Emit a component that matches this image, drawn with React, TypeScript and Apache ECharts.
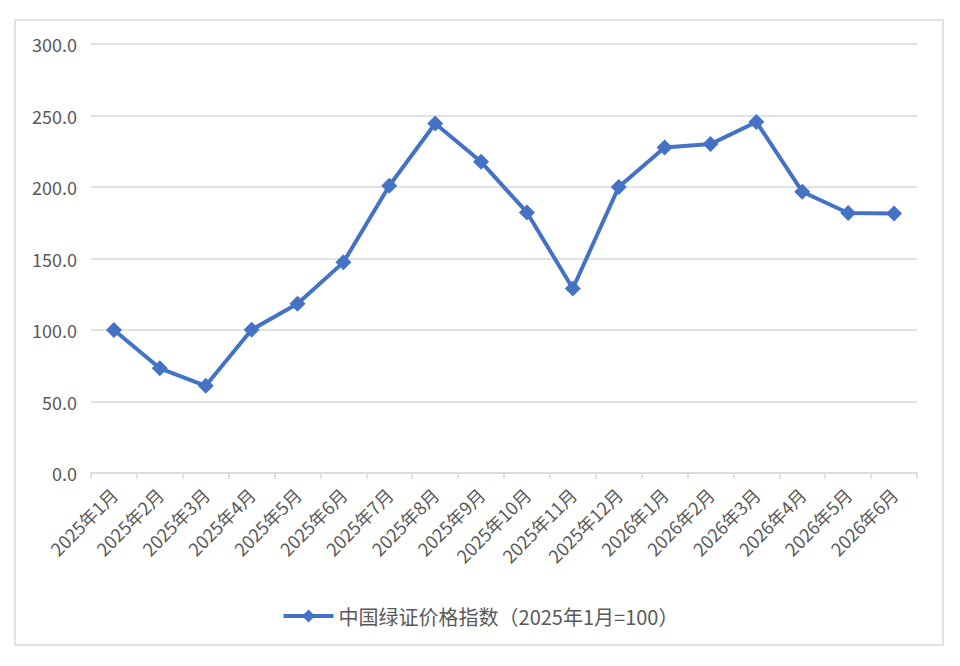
import React, { useEffect, useRef } from "react";
import * as echarts from "echarts";

const categories = [
  "2025年1月", "2025年2月", "2025年3月", "2025年4月", "2025年5月", "2025年6月",
  "2025年7月", "2025年8月", "2025年9月", "2025年10月", "2025年11月", "2025年12月",
  "2026年1月", "2026年2月", "2026年3月", "2026年4月", "2026年5月", "2026年6月",
];
const seriesName = "中国绿证价格指数（2025年1月=100）";
const indexValues = [
  100.0, 73.2, 61.0, 100.2, 118.3, 147.3,
  200.9, 244.4, 217.6, 182.2, 129.0, 200.0,
  227.6, 230.0, 245.5, 196.7, 181.8, 181.5,
];

const FONT = "'Noto Sans CJK SC', 'Noto Sans', sans-serif";

export default function App() {
  const ref = useRef<HTMLDivElement>(null);
  useEffect(() => {
    if (!ref.current) return;
    const chart = echarts.init(ref.current, null, { renderer: "svg" });
    chart.setOption({
      animation: false,
      backgroundColor: "#ffffff",
      graphic: [
        {
          type: "rect",
          shape: { x: 15, y: 20, width: 928, height: 625 },
          style: { fill: "none", stroke: "#d9d9d9", lineWidth: 1.5 },
          silent: true,
        },
      ],
      grid: { left: 91, right: 43, top: 44, bottom: 193, containLabel: false },
      legend: {
        data: [seriesName],
        top: 601,
        left: "center",
        itemWidth: 50,
        itemHeight: 16,
        itemGap: 6,
        lineStyle: { width: 4 },
        textStyle: { color: "#595959", fontSize: 20, fontFamily: FONT },
      },
      xAxis: {
        type: "category",
        data: categories,
        boundaryGap: true,
        axisLine: { lineStyle: { color: "#d9d9d9", width: 1.5 } },
        axisTick: { show: true, length: 6, lineStyle: { color: "#d9d9d9", width: 1.5 } },
        axisLabel: {
          interval: 0,
          rotate: 45,
          color: "#595959",
          fontSize: 18,
          fontFamily: FONT,
          margin: 18,
        },
      },
      yAxis: {
        type: "value",
        min: 0,
        max: 300,
        interval: 50,
        axisLine: { show: false },
        axisTick: { show: false },
        splitLine: { lineStyle: { color: "#d9d9d9", width: 1.5 } },
        axisLabel: {
          color: "#595959",
          fontSize: 18,
          fontFamily: FONT,
          margin: 14,
          formatter: (v: number) => v.toFixed(1),
        },
      },
      series: [
        {
          name: seriesName,
          type: "line",
          data: indexValues,
          symbol: "diamond",
          symbolSize: 16,
          lineStyle: { color: "#4472C4", width: 4 },
          itemStyle: { color: "#4472C4" },
        },
      ],
    });
    return () => chart.dispose();
  }, []);
  return (
    <div
      ref={ref}
      style={{ position: "fixed", left: 0, top: 0, width: 960, height: 666 }}
    />
  );
}
